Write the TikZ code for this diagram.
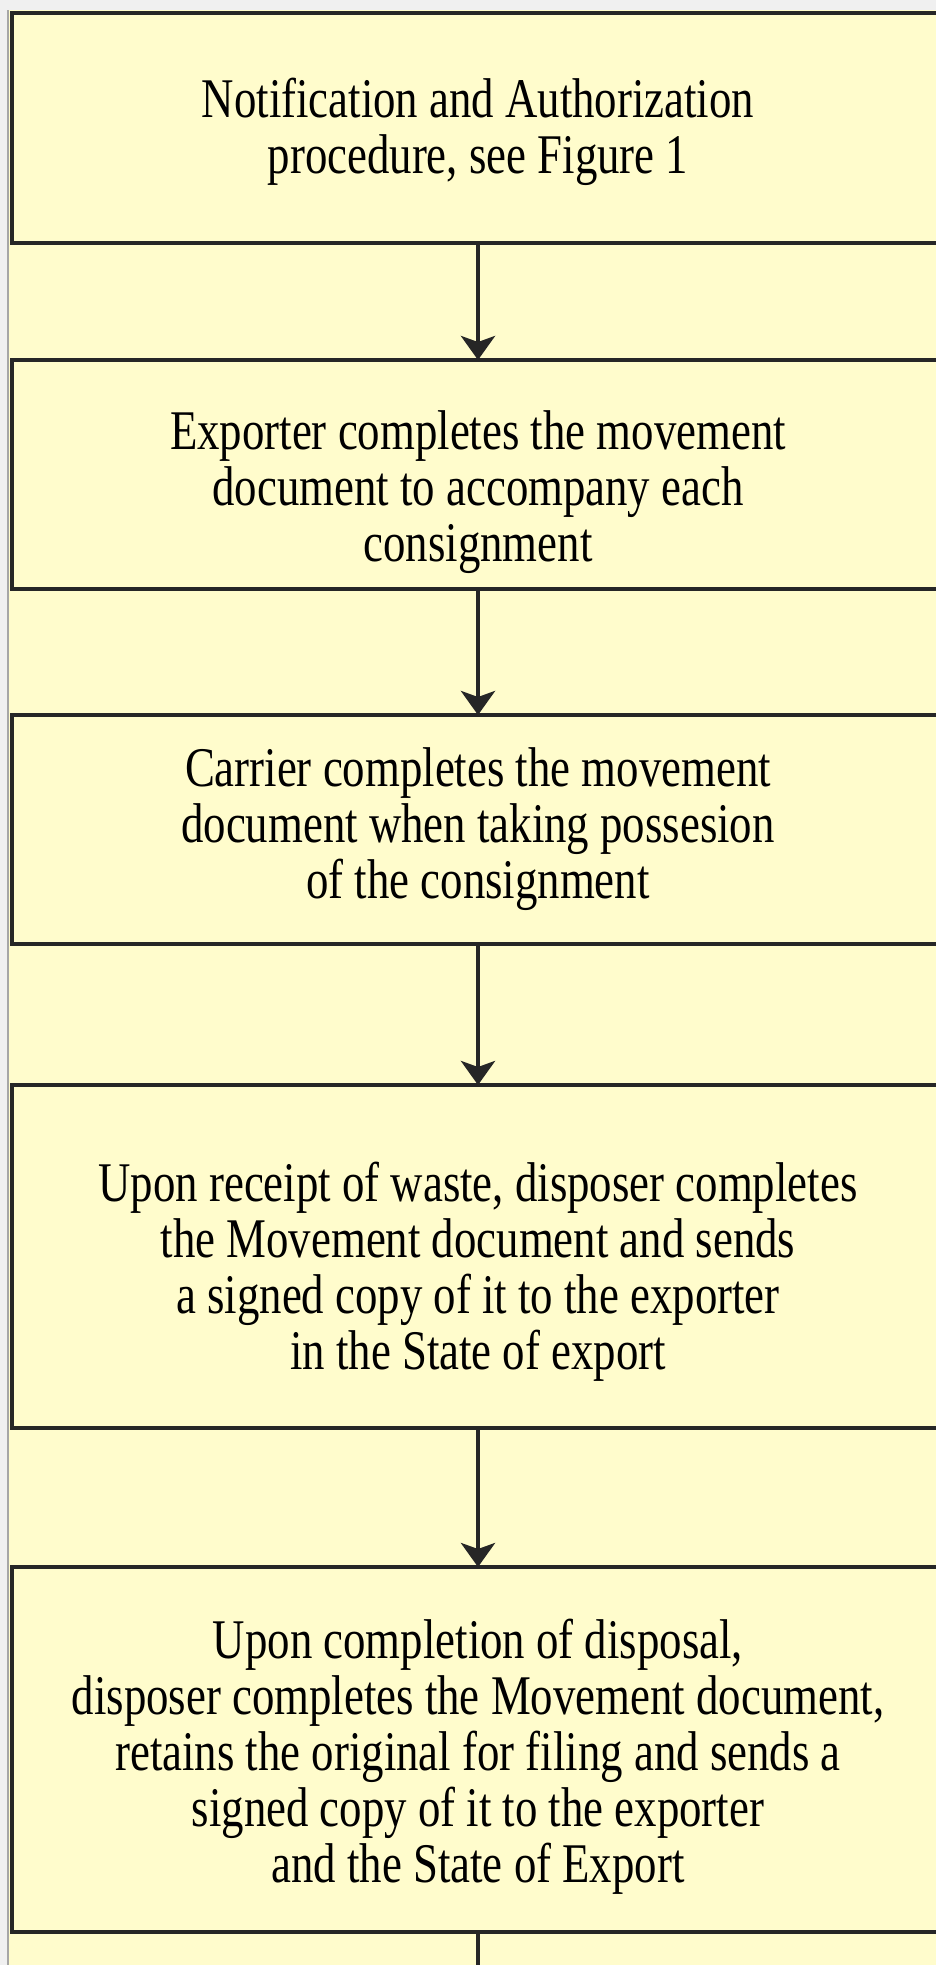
\documentclass[tikz,border=0pt]{standalone}
\usepackage{fontspec}
\setmainfont{Liberation Serif}[FakeStretch=0.8]
\usetikzlibrary{arrows.meta}
\definecolor{memo}{RGB}{255,252,204}
\newcommand\txtdown[1]{\rule{0pt}{#1}}
\tikzset{
  stepbox/.style={draw=black!85,line width=2.3pt,fill=memo,inner sep=0pt,outer sep=0pt,
    minimum width=466pt,align=center,font=\fontsize{28pt}{28pt}\selectfont},
  flow/.style={draw=black!85,line width=2.3pt,-{Stealth[length=12pt,width=17pt,inset=3pt]}}
}
\begin{document}
\begin{tikzpicture}[x=0.5pt,y=-0.5pt]
      \useasboundingbox (0,0) rectangle (936,1965);
      \clip (0,0) rectangle (936,1965);
      \fill[gray!12] (0,0) rectangle (936,1965);
      \fill[memo] (9,10) rectangle (960,1980);
      \draw[gray!70,line width=1pt] (8,10) -- (8,1980);
      % the five steps
      \node[stepbox,minimum height=115pt] (notif) at (478,128)
        {\txtdown{24pt}Notification and Authorization\\procedure, see Figure 1};
      \node[stepbox,minimum height=114.5pt] (exporter) at (478,474.5)
        {\txtdown{36.7pt}Exporter completes the movement\\document to accompany each\\consignment};
      \node[stepbox,minimum height=114.5pt] (carrier) at (478,829.5)
        {Carrier completes the movement\\document when taking possesion\\of the consignment};
      \node[stepbox,minimum height=171.5pt] (receipt) at (478,1256.5)
        {\txtdown{35pt}Upon receipt of waste, disposer completes\\the Movement document and sends\\a signed copy of it to the exporter\\in the State of export};
      \node[stepbox,minimum height=182.5pt] (disposal) at (478,1749.5)
        {\txtdown{26.7pt}Upon completion of disposal,\\disposer completes the Movement document,\\retains the original for filing and sends a\\signed copy of it to the exporter\\and the State of Export};
      \coordinate (next) at (478,1990);
      \draw[flow] (notif) -- (exporter);
      \draw[flow] (exporter) -- (carrier);
      \draw[flow] (carrier) -- (receipt);
      \draw[flow] (receipt) -- (disposal);
      \draw[draw=black!85,line width=2.3pt] (disposal) -- (next);
    \end{tikzpicture}
\end{document}
